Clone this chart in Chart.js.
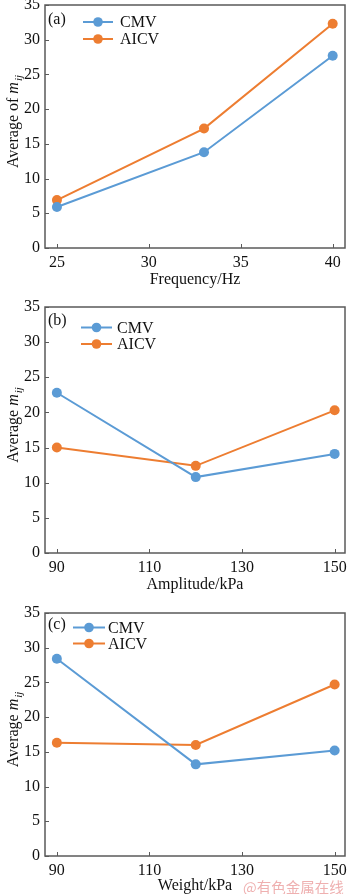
<!DOCTYPE html>
<html>
<head>
<meta charset="utf-8">
<script src="https://cdn.jsdelivr.net/npm/chart.js@4.4.1/dist/chart.umd.min.js"></script>
<style>
    html, body { margin: 0; padding: 0; background: #fff; }
    #wrap { position: relative; width: 350px; height: 894px; overflow: hidden; }
    .panel { position: absolute; left: 0; width: 350px; }
    .panel canvas { display: block; }
    #mark {
        position: absolute; left: 243px; top: 876px;
        font: 14.5px 'Noto Sans CJK SC', sans-serif; color: #efb0b0; white-space: nowrap;
    }
</style>
</head>
<body>
<div id="wrap">
    <div class="panel" style="top:0"><canvas id="chart-a" width="350" height="290"></canvas></div>
    <div class="panel" style="top:290px"><canvas id="chart-b" width="350" height="310"></canvas></div>
    <div class="panel" style="top:600px"><canvas id="chart-c" width="350" height="294"></canvas></div>
    <div id="mark">@有色金属在线</div>
</div>
<script>
// ════════════════════════════════════════
// DATA
// ════════════════════════════════════════

const Y_TICKS = [0, 5, 10, 15, 20, 25, 30, 35];

// (a) frequency
const FREQ_HZ = [25, 33, 40];
const FREQ_TICKS = [25, 30, 35, 40];
const CMV_FREQ = [5.9, 13.8, 27.7];
const AICV_FREQ = [6.9, 17.2, 32.3];

// (b) amplitude
const AMP_KPA = [90, 120, 150];
const KPA_TICKS = [90, 110, 130, 150];
const CMV_AMP = [22.8, 10.8, 14.1];
const AICV_AMP = [15.0, 12.4, 20.3];

// (c) weight
const WEIGHT_KPA = [90, 120, 150];
const CMV_WEIGHT = [28.4, 13.2, 15.2];
const AICV_WEIGHT = [16.3, 16.0, 24.7];

const SERIES_LABELS = ['CMV', 'AICV'];

// ════════════════════════════════════════
// STYLE
// ════════════════════════════════════════

const SERIF = "'Liberation Serif', 'Times New Roman', serif";
const BLUE = '#5B9BD5';
const ORANGE = '#ED7D31';
const AXIS_COLOR = '#5a5a5a';
const TEXT_COLOR = '#111';

// draws box, inward ticks, panel letter, legend and the y title
function framePlugin(p) {
    return {
        id: 'frame',
        afterDraw(chart) {
            const { ctx, chartArea: a, scales: { x, y } } = chart;
            ctx.save();

            ctx.strokeStyle = AXIS_COLOR;
            ctx.lineWidth = 1.5;
            ctx.strokeRect(a.left, a.top, a.right - a.left, a.bottom - a.top);

            ctx.lineWidth = 1;
            ctx.beginPath();
            x.ticks.forEach(t => {
                const px = Math.round(x.getPixelForValue(t.value)) + 0.5;
                ctx.moveTo(px, a.bottom);
                ctx.lineTo(px, a.bottom - 4);
            });
            y.ticks.forEach(t => {
                const py = Math.round(y.getPixelForValue(t.value)) + 0.5;
                ctx.moveTo(a.left, py);
                ctx.lineTo(a.left + 4, py);
            });
            ctx.stroke();

            // panel letter
            ctx.fillStyle = TEXT_COLOR;
            ctx.font = `16px ${SERIF}`;
            ctx.textAlign = 'left';
            ctx.textBaseline = 'middle';
            ctx.fillText(p.letter, 48, a.top + p.letterDy);

            // legend
            chart.data.datasets.forEach((ds, i) => {
                const ly = a.top + p.legend.ys[i];
                ctx.strokeStyle = ds.borderColor;
                ctx.lineWidth = 2;
                ctx.beginPath();
                ctx.moveTo(p.legend.x0, ly);
                ctx.lineTo(p.legend.x1, ly);
                ctx.stroke();
                ctx.fillStyle = ds.borderColor;
                ctx.beginPath();
                ctx.arc((p.legend.x0 + p.legend.x1) / 2, ly, 4.8, 0, Math.PI * 2);
                ctx.fill();
                ctx.fillStyle = TEXT_COLOR;
                ctx.font = `16px ${SERIF}`;
                ctx.fillText(ds.label, p.legend.tx, ly + 1);
            });

            // y title: "<prefix> m_ij" with italic m and subscript ij
            const main = `16px ${SERIF}`;
            const ital = `italic 16px ${SERIF}`;
            const sub = `italic 11px ${SERIF}`;
            ctx.font = main; const w1 = ctx.measureText(p.yTitle).width;
            ctx.font = ital; const w2 = ctx.measureText('m').width;
            ctx.font = sub; const w3 = ctx.measureText('ij').width;
            const total = w1 + w2 + w3 + 1;
            ctx.translate(13, (a.top + a.bottom) / 2 - 5);
            ctx.rotate(-Math.PI / 2);
            ctx.textBaseline = 'alphabetic';
            let cx = -total / 2;
            ctx.fillStyle = TEXT_COLOR;
            ctx.font = main; ctx.fillText(p.yTitle, cx, 5); cx += w1;
            ctx.font = ital; ctx.fillText('m', cx, 5); cx += w2 + 1;
            ctx.font = sub; ctx.fillText('ij', cx, 9);

            ctx.restore();
        }
    };
}

function renderPanel(p) {
    const ctx = document.getElementById(p.id);
    const canvasH = ctx.height;
    const toXY = (xs, ys) => xs.map((v, i) => ({ x: v, y: ys[i] }));

    const datasets = [
        { label: SERIES_LABELS[0], data: toXY(p.xs, p.cmv), borderColor: BLUE, backgroundColor: BLUE },
        { label: SERIES_LABELS[1], data: toXY(p.xs, p.aicv), borderColor: ORANGE, backgroundColor: ORANGE },
    ].map(d => ({
        ...d,
        borderWidth: 2,
        pointRadius: 5,
        pointBorderWidth: 0,
        pointBackgroundColor: d.borderColor,
        tension: 0,
        fill: false,
        clip: false,
    }));

    return new Chart(ctx, {
        type: 'line',
        data: { datasets },
        options: {
            responsive: false,
            animation: false,
            events: [],
            layout: { padding: { top: p.top, right: 1.5, bottom: 0, left: 0 } },
            plugins: { legend: { display: false }, tooltip: { enabled: false } },
            scales: {
                x: {
                    type: 'linear',
                    min: p.xMin,
                    max: p.xMax,
                    grid: { display: false, drawTicks: false },
                    border: { display: false },
                    afterBuildTicks: s => { s.ticks = p.xTicks.map(v => ({ value: v })); },
                    afterFit: s => { s.height = canvasH - p.bottom; s.paddingLeft = 0; s.paddingRight = 0; },
                    ticks: {
                        autoSkip: false,
                        maxRotation: 0,
                        padding: 5,
                        color: TEXT_COLOR,
                        font: { family: SERIF, size: 16 },
                    },
                    title: {
                        display: true,
                        text: p.xTitle,
                        color: TEXT_COLOR,
                        font: { family: SERIF, size: 16, lineHeight: 1 },
                        padding: { top: 0, bottom: p.xTitlePad },
                    },
                },
                y: {
                    min: 0,
                    max: 35,
                    grid: { display: false, drawTicks: false },
                    border: { display: false },
                    afterBuildTicks: s => { s.ticks = Y_TICKS.map(v => ({ value: v })); },
                    afterFit: s => { s.width = 45; s.paddingTop = 0; s.paddingBottom = 0; },
                    ticks: {
                        padding: 5,
                        color: TEXT_COLOR,
                        font: { family: SERIF, size: 16 },
                    },
                },
            },
        },
        plugins: [framePlugin(p)],
    });
}

renderPanel({
    id: 'chart-a', top: 3, bottom: 248,
    xs: FREQ_HZ, cmv: CMV_FREQ, aicv: AICV_FREQ,
    xMin: 24.35, xMax: 40.67, xTicks: FREQ_TICKS,
    xTitle: 'Frequency/Hz', xTitlePad: 2, yTitle: 'Average of ',
    letter: '(a)', letterDy: 15,
    legend: { x0: 83, x1: 113, tx: 120, ys: [17, 34] },
});

renderPanel({
    id: 'chart-b', top: 17, bottom: 263,
    xs: AMP_KPA, cmv: CMV_AMP, aicv: AICV_AMP,
    xMin: 87.44, xMax: 152.24, xTicks: KPA_TICKS,
    xTitle: 'Amplitude/kPa', xTitlePad: 7, yTitle: 'Average ',
    letter: '(b)', letterDy: 14,
    legend: { x0: 81, x1: 112, tx: 117, ys: [20.5, 37] },
});

renderPanel({
    id: 'chart-c', top: 13, bottom: 256,
    xs: WEIGHT_KPA, cmv: CMV_WEIGHT, aicv: AICV_WEIGHT,
    xMin: 87.44, xMax: 152.24, xTicks: KPA_TICKS,
    xTitle: 'Weight/kPa', xTitlePad: 0.5, yTitle: 'Average ',
    letter: '(c)', letterDy: 12,
    legend: { x0: 73, x1: 105, tx: 108, ys: [14.5, 30.5] },
});
</script>
</body>
</html>
